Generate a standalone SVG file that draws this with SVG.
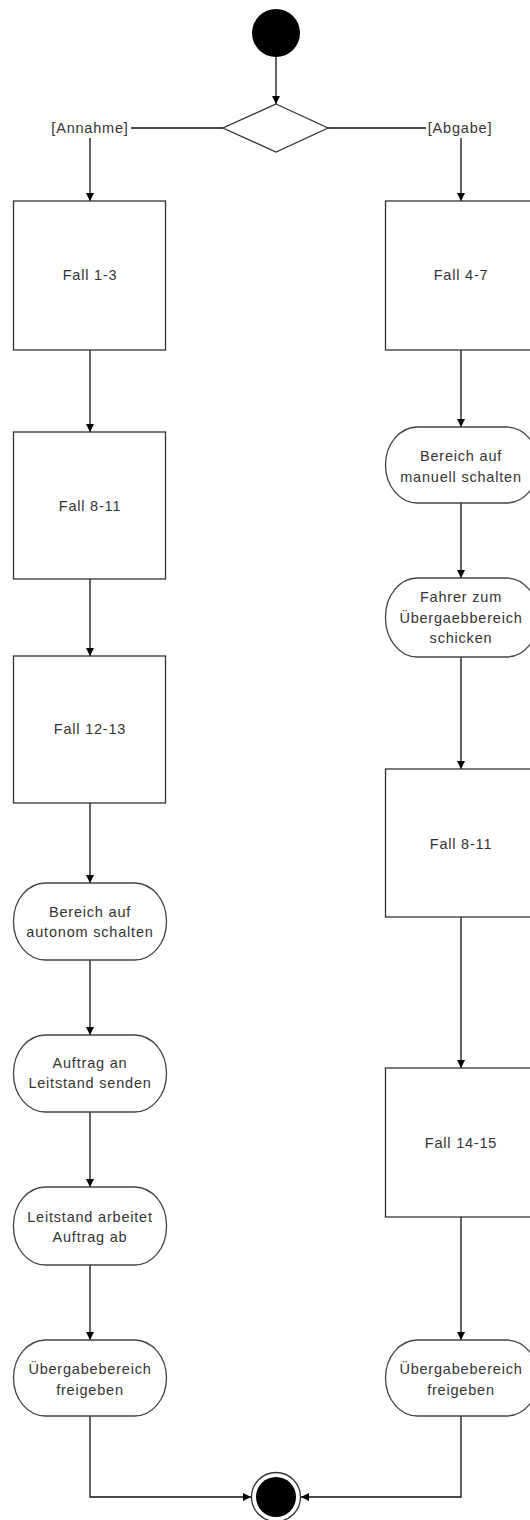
<svg xmlns="http://www.w3.org/2000/svg" width="530" height="1520" viewBox="0 0 530 1520">
  <defs>
    <style>
      .box { fill: #fff; stroke: #333; stroke-width: 1.3; }
      .pill { fill: #fff; stroke: #444; stroke-width: 1.3; }
      .edge { fill: none; stroke: #111; stroke-width: 1.3; }
      .lbl { font-family: "Liberation Sans", Arial, sans-serif; font-size: 14.5px; letter-spacing: 0.8px; fill: #333; text-anchor: middle; }
    </style>
    <marker id="arrow" viewBox="0 0 10 10" refX="10" refY="5" markerWidth="8" markerHeight="8" markerUnits="userSpaceOnUse" orient="auto">
      <path d="M0,0 L10,5 L0,10 Z" fill="#000"/>
    </marker>
  </defs>
  <rect width="530" height="1520" fill="#fff"/>

  <!-- connectors -->
  <g id="connectors">
    <line class="edge" x1="276" y1="57" x2="276" y2="104" marker-end="url(#arrow)"/>
    <line class="edge" x1="223" y1="128" x2="131" y2="128"/>
    <line class="edge" x1="328" y1="128" x2="426" y2="128"/>
    <line class="edge" x1="90" y1="138" x2="90" y2="201" marker-end="url(#arrow)"/>
    <line class="edge" x1="461" y1="138" x2="461" y2="201" marker-end="url(#arrow)"/>
    <!-- left branch -->
    <line class="edge" x1="90" y1="350" x2="90" y2="432" marker-end="url(#arrow)"/>
    <line class="edge" x1="90" y1="579" x2="90" y2="656" marker-end="url(#arrow)"/>
    <line class="edge" x1="90" y1="803" x2="90" y2="883" marker-end="url(#arrow)"/>
    <line class="edge" x1="90" y1="960" x2="90" y2="1035" marker-end="url(#arrow)"/>
    <line class="edge" x1="90" y1="1112" x2="90" y2="1187" marker-end="url(#arrow)"/>
    <line class="edge" x1="90" y1="1265" x2="90" y2="1340" marker-end="url(#arrow)"/>
    <polyline class="edge" points="90,1416 90,1497 251,1497" marker-end="url(#arrow)"/>
    <!-- right branch -->
    <line class="edge" x1="461" y1="350" x2="461" y2="427" marker-end="url(#arrow)"/>
    <line class="edge" x1="461" y1="503" x2="461" y2="578" marker-end="url(#arrow)"/>
    <line class="edge" x1="461" y1="657" x2="461" y2="769" marker-end="url(#arrow)"/>
    <line class="edge" x1="461" y1="917" x2="461" y2="1068" marker-end="url(#arrow)"/>
    <line class="edge" x1="461" y1="1217" x2="461" y2="1340" marker-end="url(#arrow)"/>
    <polyline class="edge" points="461,1416 461,1497 301,1497" marker-end="url(#arrow)"/>
  </g>

  <!-- start / decision / end -->
  <g id="start"><circle cx="276" cy="33" r="24" fill="#000"/></g>
  <g id="decision"><polygon points="276,104 328,128 276,152 223,128" fill="#fff" stroke="#333" stroke-width="1.3"/></g>
  <g id="guard-annahme"><text class="lbl" x="90" y="133">[Annahme]</text></g>
  <g id="guard-abgabe"><text class="lbl" x="460" y="133">[Abgabe]</text></g>
  <g id="end">
    <circle cx="276" cy="1497" r="24.5" fill="#fff" stroke="#333" stroke-width="1.3"/>
    <circle cx="276" cy="1497" r="20" fill="#000"/>
  </g>

  <!-- left column -->
  <g id="fall-1-3"><rect class="box" x="13.5" y="201" width="152" height="149"/><text class="lbl" x="90" y="280">Fall 1-3</text></g>
  <g id="fall-8-11-a"><rect class="box" x="13.5" y="432" width="152" height="147"/><text class="lbl" x="90" y="511">Fall 8-11</text></g>
  <g id="fall-12-13"><rect class="box" x="13.5" y="656" width="152" height="147"/><text class="lbl" x="90" y="734">Fall 12-13</text></g>
  <g id="autonom"><rect class="pill" x="13.5" y="883" width="153" height="77" rx="32" ry="38"/><text class="lbl" x="90" y="917">Bereich auf</text><text class="lbl" x="90" y="937">autonom schalten</text></g>
  <g id="auftrag-senden"><rect class="pill" x="13.5" y="1035" width="153" height="77" rx="32" ry="38"/><text class="lbl" x="90" y="1068">Auftrag an</text><text class="lbl" x="90" y="1088">Leitstand senden</text></g>
  <g id="auftrag-ab"><rect class="pill" x="13.5" y="1187" width="153" height="78" rx="32" ry="38"/><text class="lbl" x="90" y="1222">Leitstand arbeitet</text><text class="lbl" x="90" y="1242">Auftrag ab</text></g>
  <g id="freigeben-a"><rect class="pill" x="13.5" y="1340" width="153" height="76" rx="32" ry="38"/><text class="lbl" x="90" y="1374">Übergabebereich</text><text class="lbl" x="90" y="1395">freigeben</text></g>

  <!-- right column -->
  <g id="fall-4-7"><rect class="box" x="385.5" y="201" width="152" height="149"/><text class="lbl" x="461" y="280">Fall 4-7</text></g>
  <g id="manuell"><rect class="pill" x="385.5" y="427" width="153" height="76" rx="32" ry="38"/><text class="lbl" x="461" y="461">Bereich auf</text><text class="lbl" x="461" y="482">manuell schalten</text></g>
  <g id="fahrer"><rect class="pill" x="385.5" y="578" width="153" height="79" rx="32" ry="39"/><text class="lbl" x="461" y="602">Fahrer zum</text><text class="lbl" x="461" y="623">Übergaebbereich</text><text class="lbl" x="461" y="643">schicken</text></g>
  <g id="fall-8-11-b"><rect class="box" x="385.5" y="769" width="152" height="148"/><text class="lbl" x="461" y="849">Fall 8-11</text></g>
  <g id="fall-14-15"><rect class="box" x="385.5" y="1068" width="152" height="149"/><text class="lbl" x="461" y="1148">Fall 14-15</text></g>
  <g id="freigeben-b"><rect class="pill" x="385.5" y="1340" width="153" height="76" rx="32" ry="38"/><text class="lbl" x="461" y="1374">Übergabebereich</text><text class="lbl" x="461" y="1395">freigeben</text></g>
</svg>
